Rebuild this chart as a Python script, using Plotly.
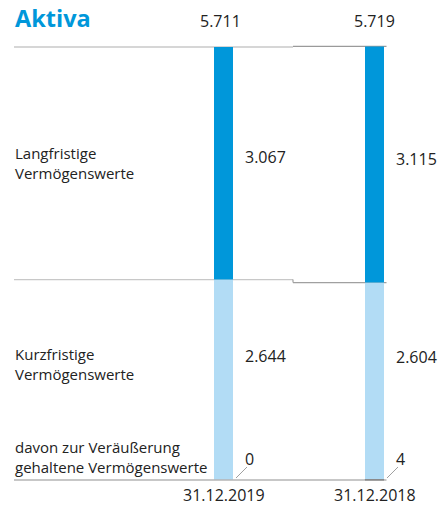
import plotly.graph_objects as go

# ---- data ----
dates = ["31.12.2019", "31.12.2018"]
langfristig = [3067, 3115]
kurzfristig = [2644, 2604]
zur_veraeusserung = [0, 4]
totals = [a + b for a, b in zip(langfristig, kurzfristig)]
row_labels = ["Langfristige<br>Vermögenswerte",
              "Kurzfristige<br>Vermögenswerte",
              "davon zur Veräußerung<br>gehaltene Vermögenswerte"]
title_text = "Aktiva"


def de(v):
    return f"{v:,}".replace(",", ".")


DARK = "#0097DA"
LIGHT = "#B2DCF5"
FONT = "Open Sans"
W, H = 439, 506

# geometry in page pixels -> axis ranges
x_pos = [0, 1]
cx0, cx1 = 223.5, 374.5
ppx = cx1 - cx0
xr = [(0 - cx0) / ppx, (W - cx0) / ppx]
y0_px, ytop_px = 480, 47
ppy = (y0_px - ytop_px) / totals[0]
yr = [-(H - y0_px) / ppy, y0_px / ppy]


def xp(px):          # px -> x data
    return (px - cx0) / ppx


def dx(d):           # px distance -> x data distance
    return d / ppx


def yd(py):          # px -> y data
    return (y0_px - py) / ppy


bw = dx(19)
kurz_rest = [k - h for k, h in zip(kurzfristig, zur_veraeusserung)]

fig = go.Figure()
fig.add_trace(go.Bar(x=x_pos, y=kurz_rest, base=zur_veraeusserung, width=bw,
                     marker_color=LIGHT, marker_line_width=0, hoverinfo="skip"))
fig.add_trace(go.Bar(x=x_pos, y=langfristig, base=kurzfristig, width=bw,
                     marker_color=DARK, marker_line_width=0, hoverinfo="skip"))
fig.add_trace(go.Bar(x=x_pos, y=zur_veraeusserung, width=bw, marker_color="#000000",
                     marker_line=dict(color="#000000",
                                      width=[1 if v > 0 else 0 for v in zur_veraeusserung]),
                     hoverinfo="skip"))

shapes = []
mid = xp(293)
left = xp(14)
right = xp(386.5)
shapes.append(dict(type="line", x0=left, x1=mid, y0=totals[0], y1=totals[0],
                   line=dict(color="#C8C8C8", width=1.3), layer="below"))
shapes.append(dict(type="line", x0=mid, x1=right, y0=totals[1], y1=totals[1],
                   line=dict(color="#9A9A9A", width=1.3), layer="below"))
shapes.append(dict(type="line", x0=left, x1=mid, y0=kurzfristig[0], y1=kurzfristig[0],
                   line=dict(color="#C8C8C8", width=1.3), layer="below"))
shapes.append(dict(type="line", x0=mid, x1=mid, y0=kurzfristig[0], y1=kurzfristig[1],
                   line=dict(color="#A0A0A0", width=1.2), layer="below"))
shapes.append(dict(type="line", x0=mid, x1=right, y0=kurzfristig[1], y1=kurzfristig[1],
                   line=dict(color="#A0A0A0", width=1.3), layer="below"))
shapes.append(dict(type="line", x0=left, x1=right, y0=0, y1=0,
                   line=dict(color="#B4B4B4", width=1.5)))
for i in range(2):
    shapes.append(dict(type="line", x0=x_pos[i] + bw / 2 + dx(3), y0=yd(478),
                       x1=x_pos[i] + bw / 2 + dx(14), y1=yd(467),
                       line=dict(color="#A0A0A0", width=1)))

ann = []
font = dict(family=FONT, size=16, color="#222222")
lfont = dict(family=FONT, size=15, color="#222222")
ann.append(dict(x=xp(13), y=yd(18), text=f"<b>{title_text}</b>", showarrow=False,
                xanchor="left", yanchor="middle",
                font=dict(family=FONT, size=23.5, color=DARK)))
seg_y = [[157, 159], [356, 357]]
tot_dx = [-3, 0]
for i in range(2):
    ann.append(dict(x=x_pos[i] + dx(tot_dx[i]), y=yd(21), text=de(totals[i]),
                    showarrow=False, xanchor="center", yanchor="middle", font=font))
    ann.append(dict(x=x_pos[i] + bw / 2 + dx(10), y=yd(seg_y[0][i]),
                    text=de(langfristig[i]), showarrow=False,
                    xanchor="left", yanchor="middle", font=font))
    ann.append(dict(x=x_pos[i] + bw / 2 + dx(10), y=yd(seg_y[1][i]),
                    text=de(kurzfristig[i]), showarrow=False,
                    xanchor="left", yanchor="middle", font=font))
    ann.append(dict(x=x_pos[i] + bw / 2 + dx(16), y=yd(459),
                    text=de(zur_veraeusserung[i]), showarrow=False,
                    xanchor="center", yanchor="middle", font=font))
    ann.append(dict(x=x_pos[i], y=yd(495), text=dates[i], showarrow=False,
                    xanchor="center", yanchor="middle", font=font))
row_y = [163, 364, 457]
for txt, py in zip(row_labels, row_y):
    ann.append(dict(x=xp(13), y=yd(py), text=txt, showarrow=False, align="left",
                    xanchor="left", yanchor="middle", font=lfont))

fig.update_layout(
    width=W, height=H, margin=dict(l=0, r=0, t=0, b=0),
    barmode="overlay", showlegend=False,
    paper_bgcolor="white", plot_bgcolor="white",
    xaxis=dict(range=xr, visible=False, fixedrange=True),
    yaxis=dict(range=yr, visible=False, fixedrange=True),
    shapes=shapes, annotations=ann,
)
fig.write_html("out.html", config={"displayModeBar": False},
               post_script="document.body.style.margin='0';"
                           "document.body.style.overflow='hidden';")
